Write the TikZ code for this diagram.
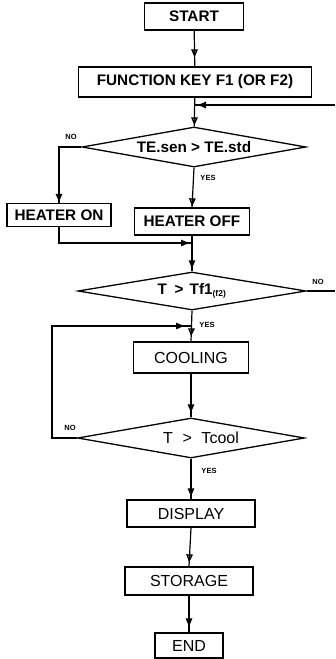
\documentclass[tikz,border=0pt]{standalone}
\usepackage{fontspec}
\setmainfont{Liberation Sans}
\usetikzlibrary{shapes.geometric,arrows.meta,decorations.markings}

\begin{document}
\begin{tikzpicture}[x=1pt,y=-1pt,
   proc/.style={draw,line width=1.3pt,inner sep=0pt,font=\fontsize{16}{16}\selectfont},
   procb/.style={proc,font=\bfseries\fontsize{15.3}{16}\selectfont},
   cond/.style={draw,diamond,aspect=5,line width=1.3pt,inner sep=0pt,minimum height=40pt},
   line/.style={line width=1.2pt},
   flow/.style={line,postaction={decorate,decoration={markings,
      mark=at position -#1 with {\arrow{Triangle[open,length=8pt,width=6.5pt,line width=1.4pt]}}}}},
   flow/.default=3pt,
   tag/.style={font=\bfseries\fontsize{7.5}{8}\selectfont}]
\useasboundingbox (0,0) rectangle (335,659);
% main column
\node[procb,minimum width=99pt,minimum height=27pt]  (start) at (194,16.5) {START};
\node[procb,minimum width=233pt,minimum height=30pt] (func)  at (195,82) {FUNCTION KEY F1 (OR F2)};
\node[cond,minimum width=224pt,font=\bfseries\fontsize{15.3}{16}\selectfont] (d1) at (194,147) {TE.sen > TE.std};
\node[procb,minimum width=104pt,minimum height=23pt] (hon)  at (59,215) {HEATER ON};
\node[procb,minimum width=115pt,minimum height=27pt] (hoff) at (192,221.5) {HEATER OFF};
\node[cond,minimum width=228pt,minimum height=38pt,font=\bfseries\fontsize{15.3}{16}\selectfont] (d2) at (192,291)
   {T\hspace{0.5em}>\hspace{0.4em}Tf1\textsubscript{\fontsize{8.5}{8.5}\selectfont(f2)}};
\node[proc,minimum width=115pt,minimum height=31pt]  (cool) at (191,357.5) {COOLING};
\node[cond,minimum width=227pt,font=\fontsize{16}{16}\selectfont] (d3) at (191,438)
   {\hspace{20pt}T\hspace{0.6em}>\hspace{0.6em}Tcool};
\node[proc,minimum width=128pt,minimum height=27pt]  (disp) at (191,513.5) {DISPLAY};
\node[proc,minimum width=128pt,minimum height=28pt]  (stor) at (189,581) {STORAGE};
\node[proc,minimum width=68pt,minimum height=25pt]   (end)  at (189,645.5) {END};
% branch labels
\node[tag] (no1)  at (71,137)  {NO};
\node[tag] (yes1) at (208,178) {YES};
\node[tag] (no2)  at (318,282) {NO};
\node[tag] (yes2) at (207,325) {YES};
\node[tag] (no3)  at (70,428)  {NO};
\node[tag] (yes3) at (209,471) {YES};
% junctions
\coordinate (j0)  at (194,105);
\coordinate (fb)  at (335,105);
\coordinate (j1)  at (192,243);
\coordinate (out2) at (335,291);
\coordinate (j2)  at (191,326);
\coordinate (lp)  at (52,326);
% connectors
\draw[flow=9pt] (start) -- (func);
\draw[flow=1pt] (func) -- (d1);
\draw[flow=4pt] (fb) -- (j0);
\draw[flow=1pt] (d1.west) -| (hon.north);
\draw[flow=1pt] (d1.south) -- (hoff.north);
\draw[flow] (hon.south) |- (j1);
\draw[flow] (hoff.south) -- (d2.north);
\draw[line] (d2.east) -- (out2);
\draw[flow=5pt] (d2.south) -- (cool.north);
\draw[flow=7pt] (d3.west) -| (lp) -- (j2);
\draw[flow=5pt] (cool.south) -- (d3.north);
\draw[flow] (d3.south) -- (disp.north);
\draw[flow=4pt] (disp.south) -- (stor.north);
\draw[flow=6pt] (stor.south) -- (end.north);
\end{tikzpicture}
\end{document}
